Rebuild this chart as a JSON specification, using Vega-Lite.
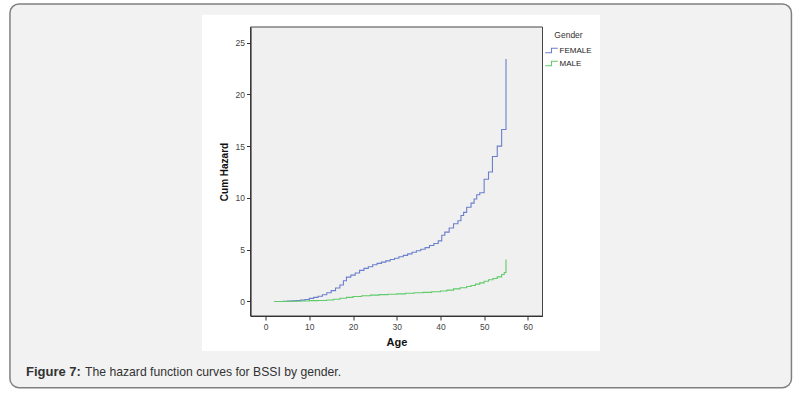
{
  "$schema": "https://vega.github.io/schema/vega-lite/v6.json",
  "autosize": "none",
  "width": 292,
  "height": 289,
  "padding": {"left": 250.5, "top": 27, "right": 253.5, "bottom": 81},
  "background": "white",
  "config": {
    "view": {"stroke": null},
    "font": "Liberation Sans",
    "axis": {"zindex": 1, "grid": false, "domainColor": "#333", "domainWidth": 1.2, "tickColor": "#333", "tickSize": 4, "labelFontSize": 8.5, "labelColor": "#444", "labelPadding": 2, "titleFontSize": 11, "titleFontWeight": "bold", "titleColor": "#111", "labelFont": "Liberation Sans", "titleFont": "Liberation Sans"}
  },
  "datasets": {
    "one": [{}],
    "hazard": [
      {"gender": "FEMALE", "age": 2, "hazard": 0},
      {"gender": "FEMALE", "age": 4, "hazard": 0.02},
      {"gender": "FEMALE", "age": 5, "hazard": 0.04},
      {"gender": "FEMALE", "age": 6, "hazard": 0.06},
      {"gender": "FEMALE", "age": 7, "hazard": 0.09},
      {"gender": "FEMALE", "age": 8, "hazard": 0.13},
      {"gender": "FEMALE", "age": 9, "hazard": 0.2},
      {"gender": "FEMALE", "age": 10, "hazard": 0.3},
      {"gender": "FEMALE", "age": 11, "hazard": 0.4},
      {"gender": "FEMALE", "age": 12, "hazard": 0.5},
      {"gender": "FEMALE", "age": 13, "hazard": 0.65},
      {"gender": "FEMALE", "age": 14, "hazard": 0.85},
      {"gender": "FEMALE", "age": 15, "hazard": 1.05},
      {"gender": "FEMALE", "age": 16, "hazard": 1.3},
      {"gender": "FEMALE", "age": 17, "hazard": 1.6},
      {"gender": "FEMALE", "age": 17.8, "hazard": 2.0},
      {"gender": "FEMALE", "age": 18.5, "hazard": 2.35},
      {"gender": "FEMALE", "age": 19.5, "hazard": 2.55},
      {"gender": "FEMALE", "age": 20.5, "hazard": 2.75},
      {"gender": "FEMALE", "age": 21.5, "hazard": 3.0},
      {"gender": "FEMALE", "age": 22.5, "hazard": 3.2},
      {"gender": "FEMALE", "age": 23.5, "hazard": 3.35},
      {"gender": "FEMALE", "age": 24.5, "hazard": 3.55},
      {"gender": "FEMALE", "age": 25.5, "hazard": 3.68},
      {"gender": "FEMALE", "age": 26.5, "hazard": 3.8},
      {"gender": "FEMALE", "age": 27.5, "hazard": 3.92},
      {"gender": "FEMALE", "age": 28.5, "hazard": 4.05},
      {"gender": "FEMALE", "age": 29.5, "hazard": 4.18},
      {"gender": "FEMALE", "age": 30.5, "hazard": 4.32},
      {"gender": "FEMALE", "age": 31.5, "hazard": 4.45},
      {"gender": "FEMALE", "age": 32.5, "hazard": 4.6},
      {"gender": "FEMALE", "age": 33.5, "hazard": 4.75},
      {"gender": "FEMALE", "age": 34.5, "hazard": 4.9},
      {"gender": "FEMALE", "age": 35.5, "hazard": 5.05},
      {"gender": "FEMALE", "age": 36.5, "hazard": 5.2},
      {"gender": "FEMALE", "age": 37.5, "hazard": 5.4},
      {"gender": "FEMALE", "age": 38.5, "hazard": 5.6},
      {"gender": "FEMALE", "age": 39.5, "hazard": 5.85},
      {"gender": "FEMALE", "age": 40.3, "hazard": 6.4},
      {"gender": "FEMALE", "age": 41, "hazard": 6.7},
      {"gender": "FEMALE", "age": 42, "hazard": 7.1},
      {"gender": "FEMALE", "age": 43, "hazard": 7.5},
      {"gender": "FEMALE", "age": 44, "hazard": 7.8},
      {"gender": "FEMALE", "age": 44.7, "hazard": 8.3},
      {"gender": "FEMALE", "age": 45.3, "hazard": 8.6},
      {"gender": "FEMALE", "age": 46, "hazard": 9.1},
      {"gender": "FEMALE", "age": 47, "hazard": 9.5},
      {"gender": "FEMALE", "age": 47.7, "hazard": 9.9},
      {"gender": "FEMALE", "age": 48.3, "hazard": 10.3},
      {"gender": "FEMALE", "age": 49, "hazard": 10.5},
      {"gender": "FEMALE", "age": 50, "hazard": 11.8},
      {"gender": "FEMALE", "age": 51, "hazard": 12.5},
      {"gender": "FEMALE", "age": 51.9, "hazard": 14.0},
      {"gender": "FEMALE", "age": 53, "hazard": 15.0},
      {"gender": "FEMALE", "age": 54, "hazard": 16.6},
      {"gender": "FEMALE", "age": 55, "hazard": 23.4},
      {"gender": "MALE", "age": 2, "hazard": 0},
      {"gender": "MALE", "age": 5, "hazard": 0.02},
      {"gender": "MALE", "age": 8, "hazard": 0.05},
      {"gender": "MALE", "age": 10, "hazard": 0.08},
      {"gender": "MALE", "age": 12, "hazard": 0.1},
      {"gender": "MALE", "age": 14, "hazard": 0.15},
      {"gender": "MALE", "age": 15.5, "hazard": 0.22},
      {"gender": "MALE", "age": 17, "hazard": 0.32},
      {"gender": "MALE", "age": 18.5, "hazard": 0.4},
      {"gender": "MALE", "age": 20, "hazard": 0.48},
      {"gender": "MALE", "age": 22, "hazard": 0.56},
      {"gender": "MALE", "age": 24, "hazard": 0.62},
      {"gender": "MALE", "age": 26, "hazard": 0.66},
      {"gender": "MALE", "age": 28, "hazard": 0.7},
      {"gender": "MALE", "age": 30, "hazard": 0.74},
      {"gender": "MALE", "age": 32, "hazard": 0.79},
      {"gender": "MALE", "age": 34, "hazard": 0.84},
      {"gender": "MALE", "age": 36, "hazard": 0.88},
      {"gender": "MALE", "age": 38, "hazard": 0.94},
      {"gender": "MALE", "age": 40, "hazard": 1.02},
      {"gender": "MALE", "age": 41.5, "hazard": 1.1},
      {"gender": "MALE", "age": 43, "hazard": 1.22},
      {"gender": "MALE", "age": 44.5, "hazard": 1.33},
      {"gender": "MALE", "age": 46, "hazard": 1.45},
      {"gender": "MALE", "age": 47, "hazard": 1.55},
      {"gender": "MALE", "age": 48, "hazard": 1.68},
      {"gender": "MALE", "age": 49, "hazard": 1.8},
      {"gender": "MALE", "age": 50, "hazard": 1.95},
      {"gender": "MALE", "age": 51, "hazard": 2.1},
      {"gender": "MALE", "age": 52, "hazard": 2.22},
      {"gender": "MALE", "age": 53, "hazard": 2.38},
      {"gender": "MALE", "age": 54, "hazard": 2.6},
      {"gender": "MALE", "age": 54.6, "hazard": 2.8},
      {"gender": "MALE", "age": 55, "hazard": 4.05}
    ]
  },
  "layer": [
    {
      "data": {"name": "one"},
      "mark": {"type": "rect", "fill": "#f2f2f2", "stroke": "#808080", "strokeWidth": 1.5, "cornerRadius": 9},
      "encoding": {
        "x": {"datum": -58.48, "type": "quantitative", "scale": {"domain": [-3.45, 63.35], "nice": false, "zero": false},
              "axis": {"values": [0, 10, 20, 30, 40, 50, 60], "title": "Age", "titlePadding": 6, "zindex": 2}},
        "x2": {"datum": 120.3},
        "y": {"datum": 28.72, "type": "quantitative", "scale": {"domain": [-1.4, 26.5], "nice": false, "zero": false},
              "axis": {"values": [0, 5, 10, 15, 20, 25], "title": "Cum Hazard", "titleFontSize": 10, "titlePadding": 6, "zindex": 2}},
        "y2": {"datum": -8.32}
      }
    },
    {
      "data": {"name": "one"},
      "mark": {"type": "rect", "fill": "#ffffff"},
      "encoding": {
        "x": {"datum": -14.55, "type": "quantitative"},
        "x2": {"datum": 76.53},
        "y": {"datum": 27.69, "type": "quantitative"},
        "y2": {"datum": -4.78}
      }
    },
    {
      "data": {"name": "one"},
      "mark": {"type": "rect", "fill": "#f0f0f0", "stroke": "#444", "strokeWidth": 1},
      "encoding": {
        "x": {"datum": -3.45, "type": "quantitative"},
        "x2": {"datum": 63.35},
        "y": {"datum": 26.5, "type": "quantitative"},
        "y2": {"datum": -1.4}
      }
    },
    {
      "data": {"name": "hazard"},
      "mark": {"type": "line", "interpolate": "step-after", "strokeWidth": 1.1},
      "encoding": {
        "x": {"field": "age", "type": "quantitative", "scale": {"domain": [-3.45, 63.35], "nice": false, "zero": false},
              "axis": {"values": [0, 10, 20, 30, 40, 50, 60], "title": "Age", "titlePadding": 6, "zindex": 2}},
        "y": {"field": "hazard", "type": "quantitative", "scale": {"domain": [-1.4, 26.5], "nice": false, "zero": false},
              "axis": {"values": [0, 5, 10, 15, 20, 25], "title": "Cum Hazard", "titleFontSize": 10, "titlePadding": 6, "zindex": 2}},
        "color": {"field": "gender", "type": "nominal",
                  "scale": {"domain": ["FEMALE", "MALE"], "range": ["#6b7fcc", "#5fcb6a"]},
                  "legend": {"title": "Gender", "orient": "none", "legendX": 294, "legendY": 4, "titleAnchor": "middle",
                             "titleFontSize": 8.5, "titleFontWeight": "normal", "titleColor": "#333", "titlePadding": 4,
                             "labelFontSize": 8, "labelColor": "#222", "labelOffset": 1, "rowPadding": 1,
                             "symbolType": "M-1,0.35H0V-0.35H1", "symbolSize": 160, "symbolStrokeWidth": 1.1, "symbolFillColor": "transparent"}},
        "order": {"field": "age", "type": "quantitative"}
      }
    },
    {
      "data": {"name": "one"},
      "mark": {"type": "text", "text": "Figure 7:", "align": "left", "baseline": "middle", "fontSize": 13, "fontWeight": "bold", "color": "#333", "font": "Liberation Sans"},
      "encoding": {
        "x": {"datum": -54.8, "type": "quantitative"},
        "y": {"datum": -6.81, "type": "quantitative"}
      }
    },
    {
      "data": {"name": "one"},
      "mark": {"type": "text", "text": "The hazard function curves for BSSI by gender.", "align": "left", "baseline": "middle", "fontSize": 12.2, "color": "#333", "font": "Liberation Sans"},
      "encoding": {
        "x": {"datum": -41.3, "type": "quantitative"},
        "y": {"datum": -6.81, "type": "quantitative"}
      }
    }
  ]
}
